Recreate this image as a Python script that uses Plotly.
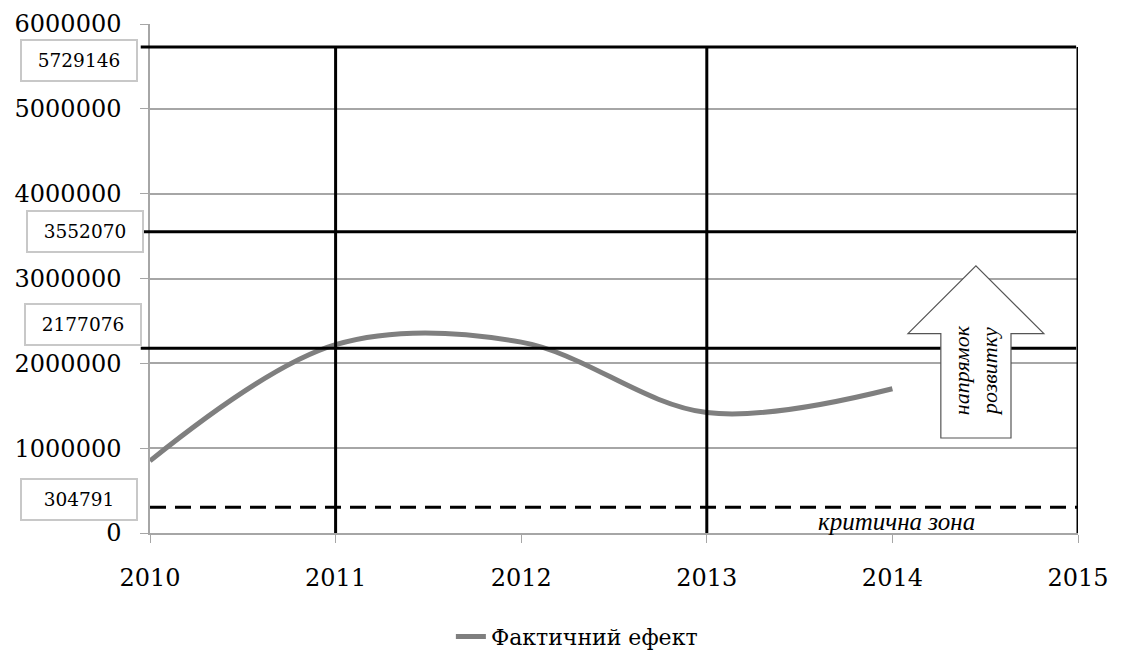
import plotly.graph_objects as go

# Actual effect by year
years = [2010, 2011, 2012, 2013, 2014]
effect = [850000, 2220000, 2250000, 1420000, 1700000]

# Threshold levels (solid) and critical level (dashed)
levels = [5729146, 3552070, 2177076]
critical = 304791
level_years = [2011, 2013, 2015]

x_ticks = [2010, 2011, 2012, 2013, 2014, 2015]
y_ticks = [0, 1000000, 2000000, 3000000, 4000000, 5000000, 6000000]

SERIF = "DejaVu Serif"
ITALIC = "Liberation Serif"
GRID = "#a6a6a6"

fig = go.Figure()

fig.add_trace(go.Scatter(
    x=years, y=effect, mode="lines", name="Фактичний ефект",
    line=dict(color="#7f7f7f", width=5, shape="spline", smoothing=1.0),
))

shapes = []
top = levels[0]
for v in levels:
    shapes.append(dict(type="line", xref="paper", yref="y",
                       x0=-0.01, x1=0.998, y0=v, y1=v,
                       line=dict(color="black", width=3)))
shapes.append(dict(type="line", xref="paper", yref="y",
                   x0=0.0, x1=1.0, y0=critical, y1=critical,
                   line=dict(color="black", width=3, dash="16px,9px")))
for yr in level_years:
    shapes.append(dict(type="line", xref="x", yref="y",
                       x0=yr, x1=yr, y0=top, y1=(-40000 if yr == 2015 else 0),
                       line=dict(color="black", width=3)))

# Direction arrow
ax, ay_tip, ay_head, ay_base = 2014.45, 3150000, 2350000, 1120000
head_half, shaft_half = 0.366, 0.189
path = (f"M {ax-shaft_half},{ay_base} L {ax-shaft_half},{ay_head} "
        f"L {ax-head_half},{ay_head} L {ax},{ay_tip} L {ax+head_half},{ay_head} "
        f"L {ax+shaft_half},{ay_head} L {ax+shaft_half},{ay_base} Z")
shapes.append(dict(type="path", xref="x", yref="y", path=path,
                   fillcolor="white", line=dict(color="#555555", width=1.2),
                   layer="above"))

annotations = []
# Value boxes on the left
box_pos = [(5729146, -14), (3552070, 0), (2177076, 24), (304791, 8)]
box_x = [-0.0765, -0.07, -0.072, -0.0765]
for (v, shift), bx in zip(box_pos, box_x):
    annotations.append(dict(
        xref="paper", yref="y", x=bx, y=v, yshift=shift,
        xanchor="center", yanchor="middle",
        text=str(v), showarrow=False,
        font=dict(family=SERIF, size=18.5, color="black"),
        bordercolor="#c8c8c8", borderwidth=2, borderpad=9,
        bgcolor="white", width=96, align="center",
    ))

annotations.append(dict(
    xref="x", yref="y", x=ax, y=1920000, text="<i>напрямок<br>розвитку</i>",
    textangle=-90, showarrow=False, xanchor="center", yanchor="middle",
    font=dict(family=ITALIC, size=22, color="black"),
))
annotations.append(dict(
    xref="x", yref="y", x=2014.02, y=130000, text="<i>критична зона</i>",
    showarrow=False, xanchor="center", yanchor="middle",
    font=dict(family=ITALIC, size=25, color="black"),
))

fig.update_layout(
    width=1124, height=655,
    margin=dict(l=150, r=46, t=24, b=122),
    paper_bgcolor="white", plot_bgcolor="white",
    font=dict(family=SERIF),
    shapes=shapes, annotations=annotations,
    showlegend=True,
    legend=dict(orientation="h", x=0.46, xanchor="center",
                yref="container", y=0.06, yanchor="top",
                font=dict(family=SERIF, size=22, color="black")),
    xaxis=dict(range=[2010, 2015], tickvals=x_ticks, ticktext=[str(t) for t in x_ticks],
               showgrid=False, zeroline=False, showline=True, linecolor=GRID, linewidth=1.5,
               ticks="outside", ticklen=8, tickcolor=GRID, ticklabelstandoff=14,
               automargin=False,
               tickfont=dict(family=SERIF, size=24, color="black")),
    yaxis=dict(range=[0, 6000000], tickvals=y_ticks, ticktext=[str(t) for t in y_ticks],
               showgrid=True, gridcolor=GRID, gridwidth=1.5, zeroline=False,
               showline=True, linecolor=GRID, linewidth=1.5,
               ticks="outside", ticklen=8, tickcolor=GRID, ticklabelstandoff=14,
               automargin=False,
               tickfont=dict(family=SERIF, size=24, color="black")),
)

fig.write_html("out.html")
